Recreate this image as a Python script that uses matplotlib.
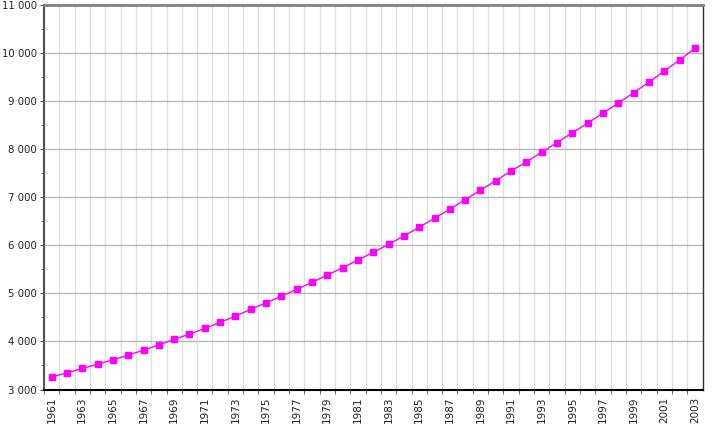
import matplotlib
matplotlib.use("Agg")
import matplotlib.pyplot as plt
from matplotlib.ticker import FixedLocator, FuncFormatter, MultipleLocator

years = list(range(1961, 2004))
population = [
    3262, 3346, 3437, 3527, 3617, 3715, 3819, 3929, 4042, 4152,
    4271, 4396, 4527, 4667, 4804, 4940, 5083, 5229, 5381, 5533,
    5694, 5854, 6021, 6194, 6375, 6563, 6750, 6950, 7146, 7343,
    7548, 7735, 7938, 8138, 8340, 8542, 8750, 8958, 9173, 9396,
    9625, 9854, 10096,
]
year_labels = [str(y) for y in years]

fig = plt.figure(figsize=(7.25, 4.26), dpi=100)
ax = fig.add_axes([44 / 725, 1 - 389.5 / 426, (702.5 - 44) / 725, (389.5 - 5) / 426])

pos = list(range(len(years)))
ax.plot(pos, population, color="#ff00ff", lw=1, marker="s", ms=4.5,
        markeredgecolor="#ff00ff", zorder=3)

ax.set_xlim(-0.5, len(years) - 0.5)
ax.set_ylim(3000, 11000)

# x: labels on every other year, ticks and grid on category boundaries
ax.xaxis.set_major_locator(FixedLocator(pos[::2]))
ax.set_xticklabels(year_labels[::2], rotation=90, fontsize=7.5, color="#222222")
ax.xaxis.set_minor_locator(FixedLocator([p + 0.5 for p in pos[:-1]] + [-0.5]))
ax.tick_params(axis="x", which="major", length=0, pad=5)
ax.tick_params(axis="x", which="minor", length=3, color="#555555")
ax.grid(True, axis="x", which="minor", color="#e0e0e0", lw=1)

# y
ax.yaxis.set_major_locator(MultipleLocator(1000))
ax.yaxis.set_minor_locator(MultipleLocator(500))
ax.yaxis.set_major_formatter(FuncFormatter(lambda v, _: f"{int(v):,}".replace(",", " ")))
ax.tick_params(axis="y", which="major", length=3, labelsize=7.3, labelcolor="#222222",
               color="#555555", pad=2)
ax.tick_params(axis="y", which="minor", length=2, color="#555555")
ax.grid(True, axis="y", which="major", color="#b8b8b8", lw=1)
ax.set_axisbelow(True)

ax.spines["left"].set_color("#555555")
ax.spines["left"].set_linewidth(1.5)
ax.spines["bottom"].set_color("black")
ax.spines["bottom"].set_linewidth(1.5)
ax.spines["top"].set_color("#808080")
ax.spines["top"].set_linewidth(2)
ax.spines["right"].set_color("#333333")
ax.spines["right"].set_linewidth(1)

fig.savefig("out.png", dpi=100)
